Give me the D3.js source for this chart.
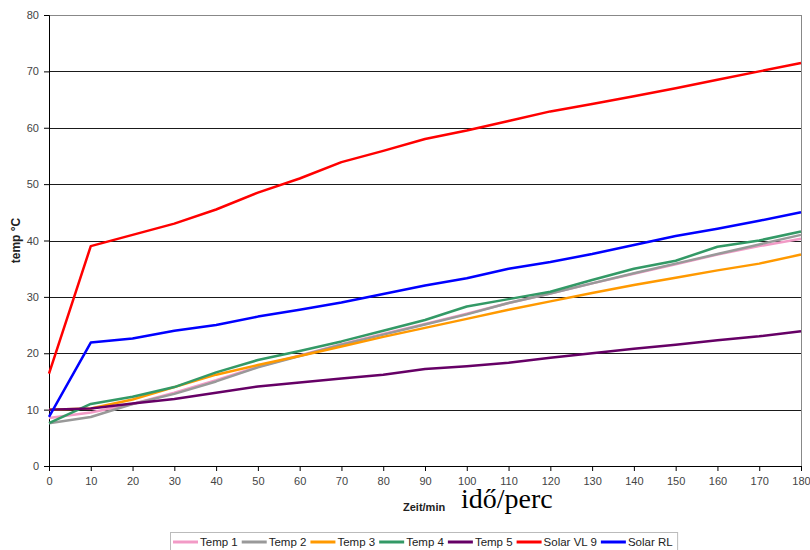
<!DOCTYPE html>
<html>
<head>
<meta charset="utf-8">
<script src="https://cdn.jsdelivr.net/npm/d3@7"></script>
<style>
    body { margin: 0; background: #fff; }
    .tick text { font-family: "Liberation Sans", Arial, sans-serif; font-size: 11px; fill: #444; }
</style>
</head>
<body>
<div id="chart"></div>
<script>
var minutes = [0, 10, 20, 30, 40, 50, 60, 70, 80, 90, 100, 110, 120, 130, 140, 150, 160, 170, 180];
var temp1 = [8.5, 9.5, 11.0, 13.0, 15.2, 17.6, 19.6, 21.6, 23.4, 25.2, 27.0, 28.9, 30.6, 32.4, 34.1, 35.8, 37.5, 39.0, 40.3];
var temp2 = [7.6, 8.7, 11.0, 12.8, 15.0, 17.5, 19.5, 21.5, 23.3, 25.1, 26.9, 28.9, 30.6, 32.4, 34.2, 35.9, 37.6, 39.3, 41.0];
var temp3 = [10.0, 10.2, 11.8, 14.0, 16.2, 17.9, 19.5, 21.2, 22.9, 24.5, 26.1, 27.7, 29.2, 30.7, 32.1, 33.4, 34.7, 35.9, 37.5];
var temp4 = [7.6, 11.0, 12.3, 14.0, 16.6, 18.8, 20.4, 22.1, 24.0, 25.9, 28.3, 29.6, 30.9, 33.0, 35.0, 36.4, 38.9, 40.0, 41.6];
var temp5 = [10.0, 10.2, 11.1, 11.9, 13.0, 14.1, 14.8, 15.5, 16.2, 17.2, 17.7, 18.3, 19.2, 20.0, 20.8, 21.5, 22.3, 23.0, 23.9];
var solarVL9 = [16.4, 39.0, 41.0, 43.0, 45.5, 48.5, 51.0, 53.9, 55.9, 58.0, 59.5, 61.2, 62.9, 64.2, 65.6, 67.0, 68.5, 70.0, 71.5];
var solarRL = [8.7, 21.9, 22.6, 24.0, 25.0, 26.5, 27.7, 29.0, 30.5, 32.0, 33.3, 35.0, 36.2, 37.6, 39.2, 40.8, 42.1, 43.5, 45.0];

var seriesNames = ["Temp 1", "Temp 2", "Temp 3", "Temp 4", "Temp 5", "Solar VL 9", "Solar RL"];
var seriesValues = [temp1, temp2, temp3, temp4, temp5, solarVL9, solarRL];
var seriesColors = ["#f29ac6", "#999999", "#ff9900", "#339966", "#660066", "#ff0000", "#0000ff"];
var yTicks = [0, 10, 20, 30, 40, 50, 60, 70, 80];

var margin = {top: 15, right: 9, bottom: 84, left: 49},
    width = 810 - margin.left - margin.right,
    height = 550 - margin.top - margin.bottom;

var svg = d3.select("#chart").append("svg")
    .attr("width", 810)
    .attr("height", 550);

var g = svg.append("g")
    .attr("transform", "translate(" + margin.left + "," + margin.top + ")");

var x = d3.scaleLinear().domain([0, 180]).range([0, width]);
var y = d3.scaleLinear().domain([0, 80]).range([height, 0]);

// horizontal grid lines
g.append("g")
    .selectAll("line")
    .data(yTicks.filter(function(d) { return d > 0; }))
    .enter()
    .append("line")
    .attr("x1", 0)
    .attr("x2", width)
    .attr("y1", function(d) { return Math.round(y(d)) + 0.5; })
    .attr("y2", function(d) { return Math.round(y(d)) + 0.5; })
    .attr("stroke", function(d) { return d == 80 ? "#888" : "#1a1a1a"; })
    .attr("stroke-width", 1);

// right border of plot area
g.append("line")
    .attr("x1", width + 0.5).attr("x2", width + 0.5)
    .attr("y1", 0).attr("y2", height)
    .attr("stroke", "#888");

// axes
var yAxis = g.append("g")
    .call(d3.axisLeft(y).tickValues(yTicks).tickSize(5).tickPadding(5));
var xAxis = g.append("g")
    .attr("transform", "translate(0," + height + ")")
    .call(d3.axisBottom(x).tickValues(minutes).tickSize(5).tickPadding(6));
[yAxis, xAxis].forEach(function(a) {
    a.select(".domain").attr("stroke", "#000");
    a.selectAll(".tick line").attr("stroke", "#000");
});

// lines
var line = d3.line()
    .x(function(d, i) { return x(minutes[i]); })
    .y(function(d) { return y(d); });

g.selectAll("path.series")
    .data(seriesValues)
    .enter()
    .append("path")
    .attr("class", "series")
    .attr("fill", "none")
    .attr("stroke", function(d, i) { return seriesColors[i]; })
    .attr("stroke-width", 2.5)
    .attr("stroke-linejoin", "round")
    .attr("d", line);

// axis titles
svg.append("text")
    .attr("transform", "translate(20," + (margin.top + y(40)) + ") rotate(-90)")
    .attr("text-anchor", "middle")
    .style("font-family", "Liberation Sans, Arial, sans-serif")
    .style("font-size", "12px")
    .style("font-weight", "bold")
    .attr("fill", "#222")
    .text("temp °C");

svg.append("text")
    .attr("x", 403)
    .attr("y", 511)
    .style("font-family", "Liberation Sans, Arial, sans-serif")
    .style("font-size", "11px")
    .style("font-weight", "bold")
    .attr("fill", "#222")
    .text("Zeit/min");

svg.append("text")
    .attr("x", 461)
    .attr("y", 508)
    .style("font-family", "Liberation Serif, Times New Roman, serif")
    .style("font-size", "28px")
    .attr("fill", "#000")
    .text("idő/perc");

// legend
var legend = svg.append("g");
var legendBox = legend.append("rect")
    .attr("x", 170.5)
    .attr("y", 532.5)
    .attr("height", 24)
    .attr("fill", "#fff")
    .attr("stroke", "#bbb");

var lx = 173;
seriesNames.forEach(function(name, i) {
    legend.append("line")
        .attr("x1", lx).attr("x2", lx + 25)
        .attr("y1", 542).attr("y2", 542)
        .attr("stroke", seriesColors[i])
        .attr("stroke-width", 3);
    var t = legend.append("text")
        .attr("x", lx + 27)
        .attr("y", 546)
        .style("font-family", "Liberation Sans, Arial, sans-serif")
        .style("font-size", "11.5px")
        .attr("fill", "#222")
        .text(name);
    lx += 27 + t.node().getComputedTextLength() + 4;
});
legendBox.attr("width", lx + 1 - 170.5);
</script>
</body>
</html>
